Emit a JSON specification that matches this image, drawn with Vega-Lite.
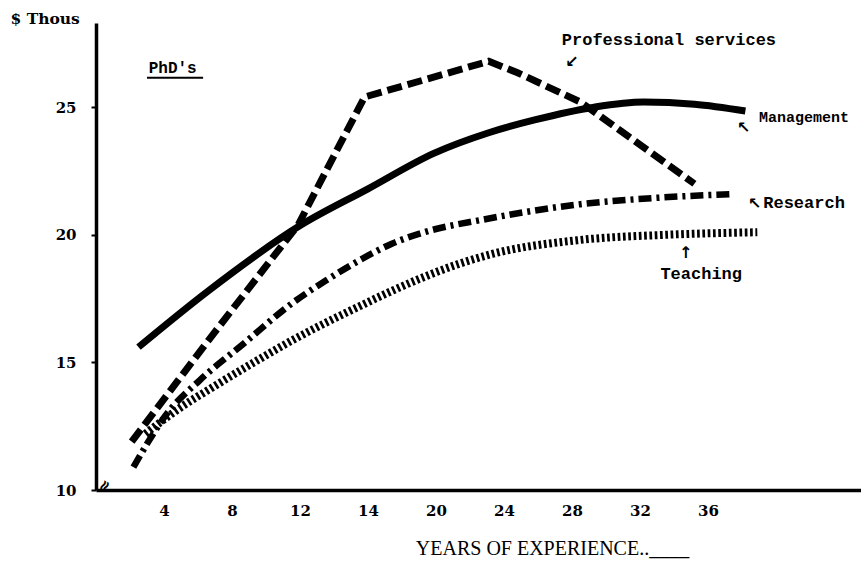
{
  "$schema": "https://vega.github.io/schema/vega-lite/v6.json",
  "width": 765,
  "height": 467,
  "autosize": {"type": "none"},
  "padding": {"left": 96, "top": 23, "right": 0, "bottom": 72},
  "background": "white",
  "config": {
    "view": {"stroke": null},
    "axis": {"grid": false, "domainColor": "black", "tickColor": "black", "labelColor": "black", "titleColor": "black"}
  },
  "datasets": {
    "lines": [
      {"series": "Management", "x": 2.5, "y": 15.6},
      {"series": "Management", "x": 6.6, "y": 17.8},
      {"series": "Management", "x": 12.1, "y": 20.4},
      {"series": "Management", "x": 16.0, "y": 21.8},
      {"series": "Management", "x": 19.9, "y": 23.2},
      {"series": "Management", "x": 23.1, "y": 24.0},
      {"series": "Management", "x": 25.8, "y": 24.5},
      {"series": "Management", "x": 29.3, "y": 25.0},
      {"series": "Management", "x": 32.2, "y": 25.2},
      {"series": "Management", "x": 35.2, "y": 25.12},
      {"series": "Management", "x": 38.2, "y": 24.85},
      {"series": "Professional services", "x": 2.1, "y": 11.9},
      {"series": "Professional services", "x": 7.0, "y": 16.2},
      {"series": "Professional services", "x": 11.9, "y": 20.4},
      {"series": "Professional services", "x": 14.0, "y": 23.1},
      {"series": "Professional services", "x": 15.8, "y": 25.4},
      {"series": "Professional services", "x": 23.1, "y": 26.8},
      {"series": "Professional services", "x": 24.8, "y": 26.35},
      {"series": "Professional services", "x": 28.5, "y": 25.2},
      {"series": "Professional services", "x": 35.2, "y": 22.0},
      {"series": "Research", "x": 2.2, "y": 10.9},
      {"series": "Research", "x": 4.3, "y": 13.1},
      {"series": "Research", "x": 6.1, "y": 14.3},
      {"series": "Research", "x": 8.8, "y": 15.8},
      {"series": "Research", "x": 11.5, "y": 17.3},
      {"series": "Research", "x": 13.5, "y": 18.2},
      {"series": "Research", "x": 15.5, "y": 19.0},
      {"series": "Research", "x": 17.4, "y": 19.65},
      {"series": "Research", "x": 19.3, "y": 20.1},
      {"series": "Research", "x": 22.8, "y": 20.6},
      {"series": "Research", "x": 28.5, "y": 21.2},
      {"series": "Research", "x": 33.0, "y": 21.45},
      {"series": "Research", "x": 37.5, "y": 21.6},
      {"series": "Teaching", "x": 2.9, "y": 12.2},
      {"series": "Teaching", "x": 4.9, "y": 13.2},
      {"series": "Teaching", "x": 6.8, "y": 14.0},
      {"series": "Teaching", "x": 9.8, "y": 15.2},
      {"series": "Teaching", "x": 11.5, "y": 15.85},
      {"series": "Teaching", "x": 13.5, "y": 16.55},
      {"series": "Teaching", "x": 15.5, "y": 17.2},
      {"series": "Teaching", "x": 17.4, "y": 17.8},
      {"series": "Teaching", "x": 19.3, "y": 18.35},
      {"series": "Teaching", "x": 21.3, "y": 18.85},
      {"series": "Teaching", "x": 23.3, "y": 19.25},
      {"series": "Teaching", "x": 28.5, "y": 19.8},
      {"series": "Teaching", "x": 33.5, "y": 20.0},
      {"series": "Teaching", "x": 38.9, "y": 20.1}
    ],
    "labels": [
      {"x": 27.4, "y": 27.65, "text": "Professional services", "size": 17},
      {"x": 39.0, "y": 24.6, "text": "Management", "size": 15},
      {"x": 39.25, "y": 21.25, "text": "Research", "size": 17},
      {"x": 33.2, "y": 18.45, "text": "Teaching", "size": 17},
      {"x": 3.1, "y": 26.55, "text": "PhD's", "size": 16}
    ],
    "arrows": [
      {"x": 27.6, "y": 26.78, "text": "↙"},
      {"x": 37.7, "y": 24.2, "text": "↖"},
      {"x": 38.35, "y": 21.2, "text": "↖"},
      {"x": 34.3, "y": 19.3, "text": "↑"}
    ],
    "brk": [
      {"x": 0.5, "y": 10.15, "text": "≈"}
    ],
    "underline": [
      {"x": 3.0, "x2": 6.3, "y": 26.15}
    ]
  },
  "layer": [
    {
      "data": {"name": "lines"},
      "transform": [{"filter": "datum.series == 'Management'"}],
      "mark": {"type": "line", "color": "black", "strokeWidth": 7, "interpolate": "monotone", "strokeCap": "butt"},
      "encoding": {
        "x": {"field": "x", "type": "quantitative", "scale": {"domain": [0, 45], "nice": false, "zero": false},
          "axis": {"values": [4, 8, 12, 16, 20, 24, 28, 32, 36], "labelExpr": "datum.value == 16 ? '14' : datum.label", "ticks": false, "domainWidth": 3.5, "labelFont": "DejaVu Serif", "labelFontWeight": "bold", "labelFontSize": 15, "labelPadding": 13,
            "title": "YEARS OF EXPERIENCE..____", "titleFont": "Liberation Serif", "titleFontWeight": "normal", "titleFontSize": 20, "titleX": 456, "titleY": 58, "titleBaseline": "middle", "titleAnchor": "middle"}},
        "y": {"field": "y", "type": "quantitative", "scale": {"domain": [10, 28.3], "nice": false, "zero": false},
          "axis": {"values": [10, 15, 20, 25], "tickSize": 5, "tickWidth": 2, "domainWidth": 3.5, "labelFont": "DejaVu Serif", "labelFontWeight": "bold", "labelFontSize": 15, "labelPadding": 15,
            "title": "$ Thous", "titleAngle": 0, "titleAlign": "left", "titleBaseline": "middle", "titleX": -86, "titleY": -5, "titleFont": "DejaVu Serif", "titleFontWeight": "bold", "titleFontSize": 15.5}}
      }
    },
    {
      "data": {"name": "lines"},
      "transform": [{"filter": "datum.series == 'Professional services'"}],
      "mark": {"type": "line", "color": "black", "strokeWidth": 7, "strokeDash": [15, 6], "strokeCap": "butt"},
      "encoding": {"x": {"field": "x", "type": "quantitative"}, "y": {"field": "y", "type": "quantitative"}}
    },
    {
      "data": {"name": "lines"},
      "transform": [{"filter": "datum.series == 'Research'"}],
      "mark": {"type": "line", "color": "black", "strokeWidth": 6.5, "strokeDash": [13, 5, 3, 5], "interpolate": "monotone", "strokeCap": "butt"},
      "encoding": {"x": {"field": "x", "type": "quantitative"}, "y": {"field": "y", "type": "quantitative"}}
    },
    {
      "data": {"name": "lines"},
      "transform": [{"filter": "datum.series == 'Teaching'"}],
      "mark": {"type": "line", "color": "black", "strokeWidth": 8, "strokeDash": [2.7, 2.6], "interpolate": "monotone", "strokeCap": "butt"},
      "encoding": {"x": {"field": "x", "type": "quantitative"}, "y": {"field": "y", "type": "quantitative"}}
    },
    {
      "data": {"name": "labels"},
      "mark": {"type": "text", "align": "left", "baseline": "middle", "font": "Liberation Mono", "fontWeight": "bold", "color": "black"},
      "encoding": {"x": {"field": "x", "type": "quantitative"}, "y": {"field": "y", "type": "quantitative"}, "text": {"field": "text"}, "size": {"field": "size", "type": "quantitative", "scale": null}}
    },
    {
      "data": {"name": "arrows"},
      "mark": {"type": "text", "align": "left", "baseline": "middle", "font": "DejaVu Sans", "fontWeight": "bold", "fontSize": 16, "color": "black"},
      "encoding": {"x": {"field": "x", "type": "quantitative"}, "y": {"field": "y", "type": "quantitative"}, "text": {"field": "text"}}
    },
    {
      "data": {"name": "brk"},
      "mark": {"type": "text", "align": "center", "baseline": "middle", "font": "DejaVu Sans", "fontWeight": "bold", "fontSize": 16, "angle": 300, "color": "black"},
      "encoding": {"x": {"field": "x", "type": "quantitative"}, "y": {"field": "y", "type": "quantitative"}, "text": {"field": "text"}}
    },
    {
      "data": {"name": "underline"},
      "mark": {"type": "rule", "color": "black", "strokeWidth": 2},
      "encoding": {"x": {"field": "x", "type": "quantitative"}, "x2": {"field": "x2"}, "y": {"field": "y", "type": "quantitative"}}
    }
  ]
}
